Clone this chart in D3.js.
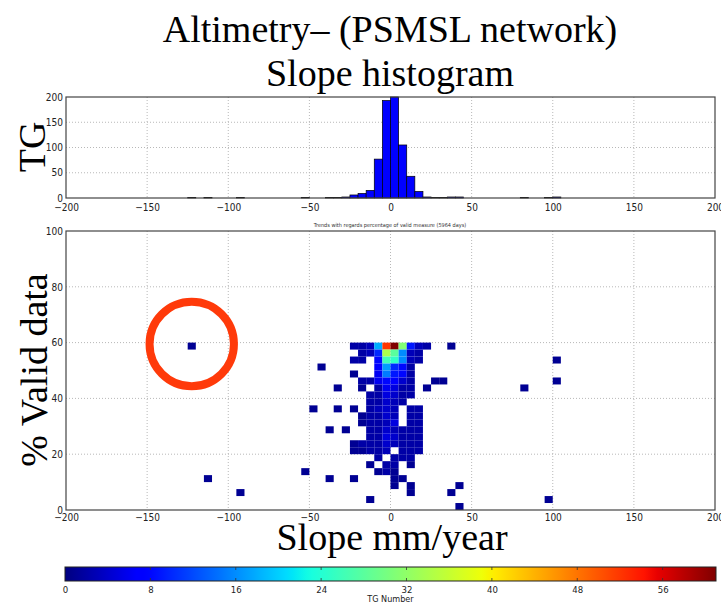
<!DOCTYPE html>
<html><head><meta charset="utf-8">
<script src="https://cdn.jsdelivr.net/npm/d3@7"></script>
<style>body{margin:0;background:#fff}svg{display:block}</style>
</head><body>
<svg id="c" width="721" height="604"></svg>
<script>
// ---------------- DATA ----------------
const titleLines = ["Altimetry\u2013 (PSMSL network)", "Slope histogram"];
const subTitle = "Trends with regards percentage of valid measure (5964 days)";
const xTicks = [-200,-150,-100,-50,0,50,100,150,200];
const histYTicks = [0,50,100,150,200];
const heatYTicks = [0,20,40,60,80,100];
const cbarTicks = [0,8,16,24,32,40,48,56];
const cbarMax = 61;
const binWidth = 5;      // slope bin (mm/year)
const binHeight = 2.5;   // valid-data bin (%)

// top histogram: left edge of slope bin and number of tide gauges
const histBins   = [-125,-115,-95,-55,-40,-35,-30,-25,-20,-15,-10,-5,  0,  5, 10,15,20,25,30,35,40,80,95,100];
const histCounts = [   1,   1,  1,  1,  1,  1,  2,  6,  9, 15, 77,193,200,105, 43,13, 2, 1, 1, 2, 2, 1, 1,  2];

// 2D histogram core: column = slope bin left edge, row = valid-% bin bottom edge
const gridSlope = [-50,-45,-40,-35,-30,-25,-20,-15,-10,-5,0,5,10,15,20,25,30,35,40,45];
const gridValid = [57.5,55,52.5,50,47.5,45,42.5,40,37.5,35,32.5,30,27.5,25,22.5,20,17.5,15,12.5,10,7.5,5,2.5,0];
const gridCounts = [
 [0,0,0,0,0,2,2,3,18,52,61,31,9,3,2,0,0,1,0,0],
 [0,0,0,0,0,0,2,3,10,34,28,16,3,2,0,0,0,0,0,0],
 [0,0,0,0,0,2,2,0,8,26,25,16,3,2,0,0,0,0,0,0],
 [0,1,0,0,0,0,0,0,7,17,10,8,2,0,0,0,0,0,0,0],
 [0,0,0,0,0,1,0,0,6,15,9,8,2,0,0,0,0,0,0,0],
 [0,0,0,0,0,0,2,2,6,8,7,4,2,0,0,1,1,0,0,0],
 [0,0,0,1,0,0,1,0,2,6,5,2,2,0,1,0,0,0,0,0],
 [0,0,0,0,0,0,0,2,2,5,4,2,2,0,0,0,0,0,0,0],
 [0,0,0,0,0,0,0,2,2,4,3,2,0,0,0,0,0,0,0,0],
 [1,0,0,1,0,1,0,2,3,4,3,0,2,2,0,0,0,0,0,0],
 [0,0,0,0,0,0,1,2,2,4,3,0,2,2,0,0,0,0,0,0],
 [0,0,0,0,0,0,1,2,2,3,5,0,2,2,0,0,0,0,0,0],
 [0,0,1,0,1,0,0,2,2,4,3,2,2,2,0,0,0,0,0,0],
 [0,0,0,0,0,0,0,2,2,5,4,2,2,2,0,0,0,0,0,0],
 [0,0,0,0,0,1,2,2,2,4,3,2,2,2,0,0,0,0,0,0],
 [0,0,0,0,0,1,1,2,2,3,0,2,2,2,0,0,0,0,0,0],
 [0,0,0,0,0,0,0,0,2,0,2,2,2,0,0,0,0,0,0,0],
 [0,0,0,0,0,0,0,1,0,2,2,0,1,0,0,0,0,0,0,0],
 [0,0,0,0,0,0,0,0,1,2,1,0,0,0,0,0,0,0,0,0],
 [0,0,1,0,0,1,0,0,0,0,1,1,0,0,0,0,0,0,0,0],
 [0,0,0,0,0,0,0,0,0,0,1,0,1,0,0,0,0,0,1,0],
 [0,0,0,0,0,0,0,0,0,0,0,0,1,0,0,0,0,1,0,0],
 [0,0,0,0,0,0,0,1,0,0,0,0,0,0,0,0,0,0,0,0],
 [0,0,0,0,0,0,0,0,0,0,0,0,0,0,0,0,0,0,1,0]
];
// isolated cells outside the core grid
const outlierSlope = [-125,-115,-95,-55,80,100,100,95];
const outlierValid = [57.5,10,5,12.5,42.5,52.5,45,2.5];
const outlierCount = [1,1,1,1,1,1,1,1];
// highlighted cell (red circle)
const circleSlope = -122.5, circleValid = 59.5;

// ---------------- LAYOUT ----------------
const svg = d3.select("#c");
const L = 66, R = 715;
const x = d3.scaleLinear().domain([-200,200]).range([L,R]);
const yH = d3.scaleLinear().domain([0,200]).range([198,97]);
const yV = d3.scaleLinear().domain([0,100]).range([510,231]);
const cb = {x0:65, x1:716, y0:567, y1:581};
const xc = d3.scaleLinear().domain([0,cbarMax]).range([cb.x0, cb.x1]);

const tickFont = "'DejaVu Sans Condensed','DejaVu Sans',sans-serif";
const serif = "'Liberation Serif','Times New Roman',serif";

// jet colormap built from linear scales
const jR = d3.scaleLinear().domain([0,0.35,0.66,0.89,1]).range([0,0,1,1,0.5]).clamp(true);
const jG = d3.scaleLinear().domain([0,0.125,0.375,0.64,0.91,1]).range([0,0,1,1,0,0]).clamp(true);
const jB = d3.scaleLinear().domain([0,0.11,0.34,0.65,1]).range([0.5,1,1,0,0]).clamp(true);
const norm = d3.scaleLinear().domain([0,cbarMax]).range([0,1]).clamp(true);
const jet = t => d3.rgb(255*jR(t), 255*jG(t), 255*jB(t)).toString();
const color = v => jet(norm(v));

// ---------------- TITLES ----------------
svg.append("text").attr("x",390).attr("y",42).attr("text-anchor","middle")
  .style("font-family",serif).style("font-size","38px").text(titleLines[0]);
svg.append("text").attr("x",390).attr("y",86).attr("text-anchor","middle")
  .style("font-family",serif).style("font-size","38px").text(titleLines[1]);

// ---------------- helpers ----------------
function drawGrid(g, y, yTicks, yTop, yBot) {
  g.append("g").selectAll("line").data(xTicks.slice(1,-1)).join("line")
    .attr("x1",d=>x(d)).attr("x2",d=>x(d)).attr("y1",yTop).attr("y2",yBot)
    .attr("stroke","#b8b8b8").attr("stroke-dasharray","1,2").attr("stroke-width",1);
  g.append("g").selectAll("line").data(yTicks.slice(1,-1)).join("line")
    .attr("x1",L).attr("x2",R).attr("y1",d=>y(d)).attr("y2",d=>y(d))
    .attr("stroke","#b8b8b8").attr("stroke-dasharray","1,2").attr("stroke-width",1);
}
function drawFrameAndLabels(g, y, yTicks, yTop, yBot, xLabY) {
  g.append("rect").attr("x",L).attr("y",yTop).attr("width",R-L).attr("height",yBot-yTop)
    .attr("fill","none").attr("stroke","#444").attr("stroke-width",1.2);
  const xa = g.append("g").attr("transform",`translate(0,${xLabY})`)
    .call(d3.axisBottom(x).tickValues(xTicks).tickSize(0).tickPadding(0));
  xa.select(".domain").remove();
  xa.selectAll("text").style("font-family",tickFont).style("font-size","10px").attr("fill","#222").attr("dy","0.35em");
  const ya = g.append("g").attr("transform",`translate(${L-3},0)`)
    .call(d3.axisLeft(y).tickValues(yTicks).tickSize(0).tickPadding(0));
  ya.select(".domain").remove();
  ya.selectAll("text").style("font-family",tickFont).style("font-size","10px").attr("fill","#222");
}

// ---------------- TOP HISTOGRAM ----------------
const gH = svg.append("g");
drawGrid(gH, yH, histYTicks, 97, 198);
gH.append("g").selectAll("rect").data(histBins.map((b,i)=>({b, c:histCounts[i]}))).join("rect")
  .attr("x",d=>x(d.b)).attr("width",d=>x(d.b+binWidth)-x(d.b))
  .attr("y",d=>yH(d.c)).attr("height",d=>yH(0)-yH(d.c))
  .attr("fill","#0000ff").attr("stroke","#000").attr("stroke-width",0.7);
drawFrameAndLabels(gH, yH, histYTicks, 97, 198, 207);

svg.append("text").attr("x",390).attr("y",227).attr("text-anchor","middle")
  .style("font-family",tickFont).style("font-size","5.5px").attr("fill","#333").text(subTitle);

// ---------------- HEATMAP ----------------
const gV = svg.append("g");
drawGrid(gV, yV, heatYTicks, 231, 510);
const cells = [];
gridValid.forEach((v,ri)=>gridSlope.forEach((s,ci)=>{
  const c = gridCounts[ri][ci]; if (c>0) cells.push({s, v, c});
}));
outlierSlope.forEach((s,i)=>cells.push({s, v:outlierValid[i], c:outlierCount[i]}));
gV.append("g").selectAll("rect").data(cells).join("rect")
  .attr("x",d=>x(d.s)).attr("width",d=>x(d.s+binWidth)-x(d.s))
  .attr("y",d=>yV(d.v+binHeight)).attr("height",d=>yV(d.v)-yV(d.v+binHeight))
  .attr("fill",d=>color(d.c));
drawFrameAndLabels(gV, yV, heatYTicks, 231, 510, 517);

// highlight circle
svg.append("circle").attr("cx",x(circleSlope)).attr("cy",yV(circleValid))
  .attr("r",x(circleSlope+26)-x(circleSlope))
  .attr("fill","none").attr("stroke","#ff3a0a").attr("stroke-width",8);

// ---------------- AXIS TITLES ----------------
svg.append("text").attr("transform","translate(45,147) rotate(-90)").attr("text-anchor","middle")
  .style("font-family",serif).style("font-size","38px").text("TG");
svg.append("text").attr("transform","translate(47,370) rotate(-90)").attr("text-anchor","middle")
  .style("font-family",serif).style("font-size","38px").text("% Valid data");
svg.append("text").attr("x",392).attr("y",550).attr("text-anchor","middle")
  .style("font-family",serif).style("font-size","38px").text("Slope mm/year");

// ---------------- COLORBAR ----------------
const grad = svg.append("defs").append("linearGradient").attr("id","jetg")
  .attr("x1","0%").attr("x2","100%").attr("y1","0%").attr("y2","0%");
grad.selectAll("stop").data(d3.range(0,1.0001,0.01)).join("stop")
  .attr("offset",d=>(d*100)+"%").attr("stop-color",d=>jet(d));
svg.append("rect").attr("x",cb.x0).attr("y",cb.y0).attr("width",cb.x1-cb.x0).attr("height",cb.y1-cb.y0)
  .attr("fill","url(#jetg)").attr("stroke","#222").attr("stroke-width",1);
const cba = svg.append("g").attr("transform",`translate(0,${cb.y1})`)
  .call(d3.axisBottom(xc).tickValues(cbarTicks).tickSize(0).tickPadding(5));
cba.select(".domain").remove();
cba.selectAll("text").style("font-family",tickFont).style("font-size","9.5px").attr("fill","#222");
svg.append("g").selectAll("line").data(cbarTicks.slice(1)).join("line")
  .attr("x1",d=>xc(d)).attr("x2",d=>xc(d)).attr("y1",cb.y0).attr("y2",cb.y0+3)
  .attr("stroke","#333").attr("stroke-width",0.8);
svg.append("g").selectAll("line").data(cbarTicks.slice(1)).join("line")
  .attr("x1",d=>xc(d)).attr("x2",d=>xc(d)).attr("y1",cb.y1-3).attr("y2",cb.y1)
  .attr("stroke","#333").attr("stroke-width",0.8);
svg.append("text").attr("x",(cb.x0+cb.x1)/2).attr("y",602).attr("text-anchor","middle")
  .style("font-family",tickFont).style("font-size","9px").attr("fill","#222").text("TG Number");
</script>
</body></html>
